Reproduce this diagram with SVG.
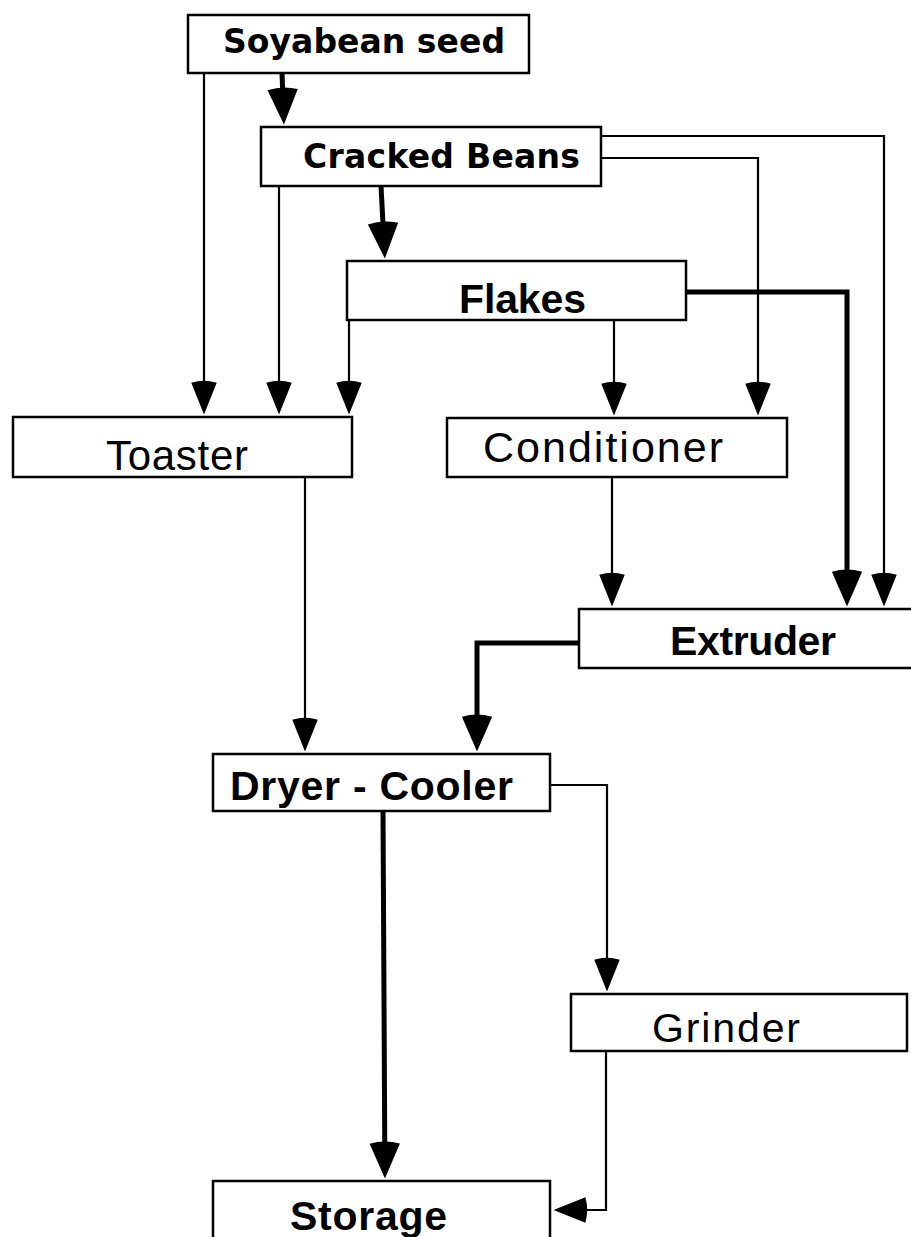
<svg xmlns="http://www.w3.org/2000/svg" width="911" height="1237" viewBox="0 0 911 1237">
<style>
.box{fill:#fff;stroke:#000;stroke-width:2.5}
.thin{fill:none;stroke:#000;stroke-width:2.2}
.thick{fill:none;stroke:#000;stroke-width:5}
.bs{font-family:"DejaVu Sans",sans-serif;font-weight:bold;fill:#000}
.bl{font-family:"Liberation Sans",Arial,sans-serif;font-weight:bold;fill:#000}
.rg{font-family:"Liberation Sans",Arial,sans-serif;font-weight:normal;fill:#000}
</style>
<defs>
<marker id="at" markerUnits="userSpaceOnUse" markerWidth="40" markerHeight="32" viewBox="-4 -16 44 32" refX="7" refY="0" orient="auto" overflow="visible">
<path d="M0,-14 L35,0 L0,14 Q-4,0 0,-14 Z" fill="#000"/>
</marker>
<marker id="ak" markerUnits="userSpaceOnUse" markerWidth="44" markerHeight="36" viewBox="-4 -18 48 36" refX="8" refY="0" orient="auto" overflow="visible">
<path d="M0,-16.5 L38,0 L0,16.5 Q-4.5,0 0,-16.5 Z" fill="#000"/>
</marker>
</defs>
<g id="connectors">
<path class="thin" d="M204,73 V389" marker-end="url(#at)"/>
<path class="thick" d="M282,73 L282.9,97" marker-end="url(#ak)"/>
<path class="thin" d="M279,186 V389" marker-end="url(#at)"/>
<path class="thick" d="M381,186 L383.4,231" marker-end="url(#ak)"/>
<path class="thin" d="M601,158 H758 V390" marker-end="url(#at)"/>
<path class="thin" d="M601,136 H884 V581" marker-end="url(#at)"/>
<path class="thin" d="M349,320 V389" marker-end="url(#at)"/>
<path class="thin" d="M614,320 V390" marker-end="url(#at)"/>
<path class="thick" d="M686,292 H847 V579" marker-end="url(#ak)"/>
<path class="thin" d="M612,477 V581" marker-end="url(#at)"/>
<path class="thin" d="M305,477 V726" marker-end="url(#at)"/>
<path class="thick" d="M579,643 H477 V724" marker-end="url(#ak)"/>
<path class="thin" d="M550,785 H607 V966" marker-end="url(#at)"/>
<path class="thick" d="M383,811 L384.8,1151" marker-end="url(#ak)"/>
<path class="thin" d="M606,1051 V1210 H579" marker-end="url(#at)"/>
</g>
<g id="soyabean">
<rect class="box" x="188" y="15" width="341" height="58"/>
<text class="bs" x="223" y="53" font-size="33" textLength="282">Soyabean seed</text>
</g>
<g id="cracked">
<rect class="box" x="261" y="127" width="340" height="59"/>
<text class="bs" x="303" y="168" font-size="33" textLength="277">Cracked Beans</text>
</g>
<g id="flakes">
<rect class="box" x="347" y="261" width="339" height="59"/>
<text class="bl" x="459" y="313" font-size="41" textLength="127">Flakes</text>
</g>
<g id="toaster">
<rect class="box" x="13" y="417" width="339" height="60"/>
<text class="rg" x="106" y="470" font-size="42" textLength="142">Toaster</text>
</g>
<g id="conditioner">
<rect class="box" x="447" y="418" width="340" height="59"/>
<text class="rg" x="483" y="462" font-size="43" textLength="240">Conditioner</text>
</g>
<g id="extruder">
<rect class="box" x="579" y="609" width="340" height="59"/>
<text class="bl" x="670" y="655" font-size="41" textLength="166">Extruder</text>
</g>
<g id="dryer">
<rect class="box" x="213" y="754" width="337" height="57"/>
<text class="bl" x="230" y="800" font-size="41" textLength="283">Dryer - Cooler</text>
</g>
<g id="grinder">
<rect class="box" x="571" y="994" width="336" height="57"/>
<text class="rg" x="652" y="1042" font-size="41" textLength="148">Grinder</text>
</g>
<g id="storage">
<rect class="box" x="213" y="1181" width="337" height="62"/>
<text class="bl" x="290" y="1230" font-size="41" textLength="157">Storage</text>
</g>
</svg>
